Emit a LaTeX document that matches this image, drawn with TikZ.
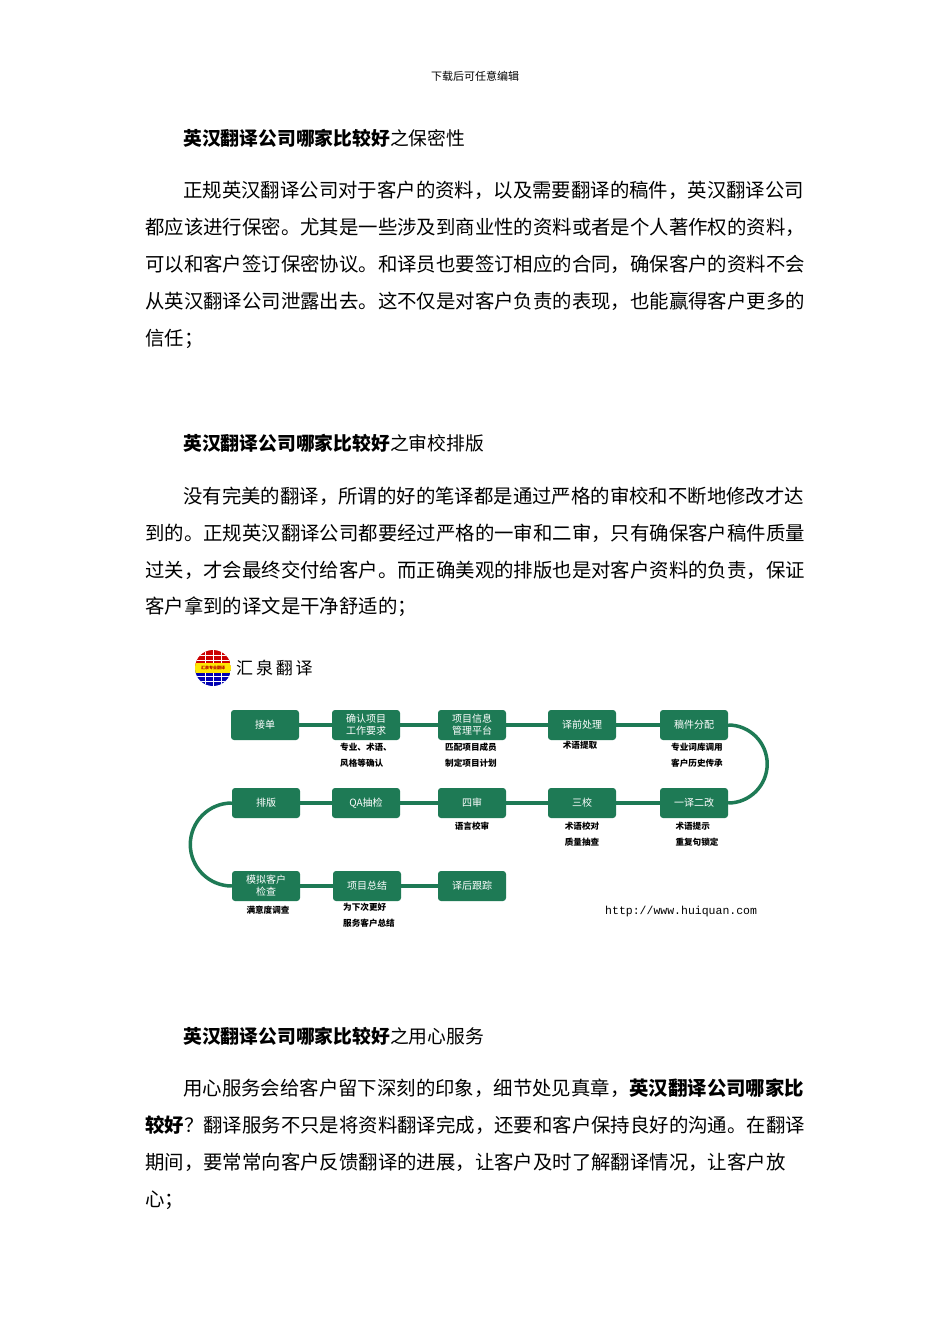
\documentclass[tikz,border=0pt]{standalone}
\usepackage{fontspec}
\setmainfont{Noto Sans CJK SC}
\setmonofont{Liberation Mono}
\definecolor{hg}{HTML}{1E7A55}
\begin{document}
\begin{tikzpicture}[x=1pt,y=-1pt,
  body/.style={anchor=west,inner sep=0,font=\fontsize{19.4}{20}\selectfont},
  head/.style={anchor=west,inner sep=0,font=\fontsize{18.8}{20}\selectfont},
  box/.style={draw=none,fill=hg,rounded corners=3pt,minimum width=68pt,minimum height=30pt,inner sep=1pt,align=center,text=white,font=\fontsize{10}{12}\selectfont},
  lab/.style={anchor=north,align=left,inner sep=0,font=\fontsize{8.6}{15.5}\selectfont\bfseries},
  conn/.style={draw=hg,line width=3.5pt}]
\useasboundingbox[fill=white] (0,0) rectangle (950,1344);
\node[inner sep=0,font=\fontsize{11}{12}\selectfont] (hdr) at (475,76) {下载后可任意编辑};
\node[head] (h1) at (183,138) {\textbf{英汉翻译公司哪家比较好}之保密性};
\node[body] (p11) at (183,190) {正规英汉翻译公司对于客户的资料，以及需要翻译的稿件，英汉翻译公司};
\node[body] (p12) at (145,227) {都应该进行保密。尤其是一些涉及到商业性的资料或者是个人著作权的资料，};
\node[body] (p13) at (145,264) {可以和客户签订保密协议。和译员也要签订相应的合同，确保客户的资料不会};
\node[body] (p14) at (145,301) {从英汉翻译公司泄露出去。这不仅是对客户负责的表现，也能赢得客户更多的};
\node[body] (p15) at (145,339) {信任；};
\node[head] (h2) at (183,443) {\textbf{英汉翻译公司哪家比较好}之审校排版};
\node[body] (p21) at (183,496) {没有完美的翻译，所谓的好的笔译都是通过严格的审校和不断地修改才达};
\node[body] (p22) at (145,533) {到的。正规英汉翻译公司都要经过严格的一审和二审，只有确保客户稿件质量};
\node[body] (p23) at (145,570) {过关，才会最终交付给客户。而正确美观的排版也是对客户资料的负责，保证};
\node[body] (p24) at (145,607) {客户拿到的译文是干净舒适的；};
\node[head] (h3) at (183,1036) {\textbf{英汉翻译公司哪家比较好}之用心服务};
\node[body] (p31) at (183,1088) {用心服务会给客户留下深刻的印象，细节处见真章，\textbf{英汉翻译公司哪家比}};
\node[body] (p32) at (145,1125) {\textbf{较好}？翻译服务不只是将资料翻译完成，还要和客户保持良好的沟通。在翻译};
\node[body] (p33) at (145,1162) {期间，要常常向客户反馈翻译的进展，让客户及时了解翻译情况，让客户放};
\node[body] (p34) at (145,1200) {心；};
% logo
\begin{scope}
\clip (213,668) circle (18);
\fill[red!80!black] (195,650) rectangle (231,668);
\fill[blue!70!black] (195,668) rectangle (231,686);
\foreach \yy in {655,660,676,681} \draw[white,line width=0.8pt] (195,\yy) -- (231,\yy);
\draw[white,line width=0.8pt] (213,650) -- (213,686) (205,650) -- (205,686) (221,650) -- (221,686);
\fill[yellow!90!orange] (195,663) rectangle (231,673);
\node[inner sep=0,font=\fontsize{4}{4}\selectfont\bfseries,text=red!70!black] (lt) at (213,668) {汇泉专业翻译};
\end{scope}
\node[anchor=west,inner sep=0,font=\fontsize{17}{18}\selectfont] (logo) at (236,668) {汇\,泉\,翻\,译};
% boxes
\node[box] (b1) at (265,725) {接单};
\node[box] (b2) at (366,725) {确认项目\\工作要求};
\node[box] (b3) at (472,725) {项目信息\\管理平台};
\node[box] (b4) at (582,725) {译前处理};
\node[box] (b5) at (694,725) {稿件分配};
\node[box] (c1) at (266,803) {排版};
\node[box] (c2) at (366,803) {QA抽检};
\node[box] (c3) at (472,803) {四审};
\node[box] (c4) at (582,803) {三校};
\node[box] (c5) at (694,803) {一译二改};
\node[box] (d1) at (266,886) {模拟客户\\检查};
\node[box] (d2) at (367,886) {项目总结};
\node[box] (d3) at (472,886) {译后跟踪};
\draw[conn] (b1) -- (b2); \draw[conn] (b2) -- (b3); \draw[conn] (b3) -- (b4); \draw[conn] (b4) -- (b5);
\draw[conn] (c1) -- (c2); \draw[conn] (c2) -- (c3); \draw[conn] (c3) -- (c4); \draw[conn] (c4) -- (c5);
\draw[conn] (d1) -- (d2); \draw[conn] (d2) -- (d3);
\draw[conn] (b5.east) arc[start angle=-90,end angle=90,radius=39];
\draw[conn] (c1.west) arc[start angle=-90,end angle=-270,radius=41.5];
% labels
\node[lab] (l2) at (366,743) {专业、术语、\\风格等确认};
\node[lab] (l3) at (471,743) {匹配项目成员\\制定项目计划};
\node[lab] (l4) at (580,741) {术语提取};
\node[lab] (l5) at (697,743) {专业词库调用\\客户历史传承};
\node[lab] (l7) at (472,822) {语言校审};
\node[lab] (l8) at (582,822) {术语校对\\质量抽查};
\node[lab] (l9) at (697,822) {术语提示\\重复句锁定};
\node[lab] (l10) at (268,906) {满意度调查};
\node[lab] (l11) at (369,903) {为下次更好\\服务客户总结};
\node[anchor=west,inner sep=0,font=\fontsize{11.5}{12}\ttfamily] (url) at (605,912) {http://www.huiquan.com};
\end{tikzpicture}
\end{document}
